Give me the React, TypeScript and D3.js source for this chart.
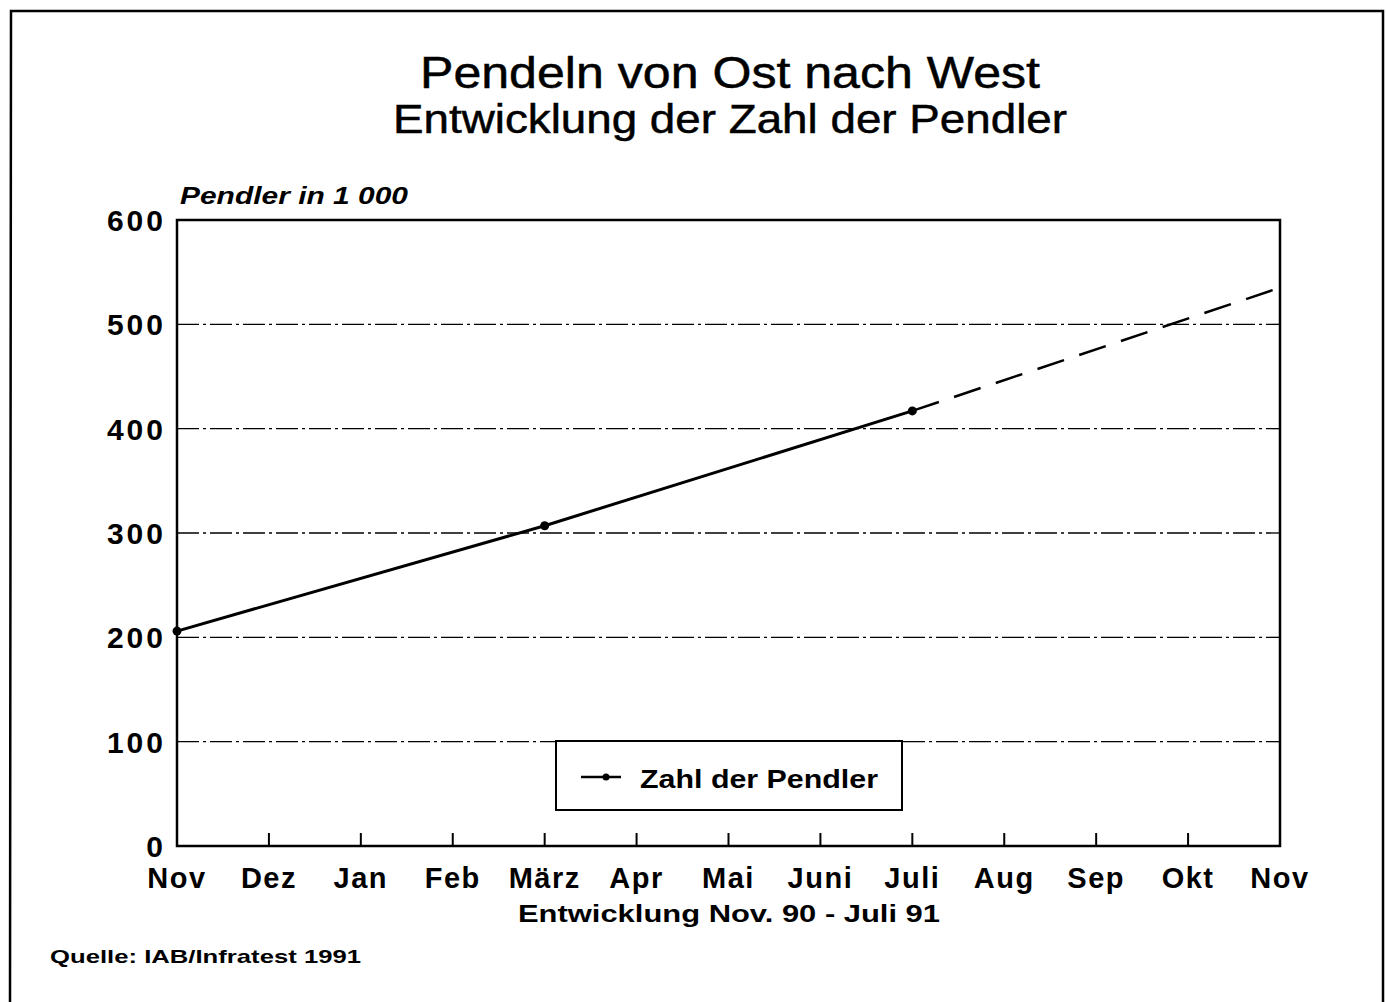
import * as d3 from "d3";

const months = ["Nov", "Dez", "Jan", "Feb", "März", "Apr", "Mai", "Juni", "Juli", "Aug", "Sep", "Okt", "Nov"];
const yTicks = [0, 100, 200, 300, 400, 500, 600];
// observed values (month index, Pendler in 1000)
const observed: [number, number][] = [
  [0, 206],
  [4, 307],
  [8, 417],
];
// dashed extrapolation to Nov 91
const projection: [number, number][] = [
  [8, 417],
  [12.03, 536],
];

const W = 1386;
const H = 1002;
const FONT = "'Liberation Sans', Arial, Helvetica, sans-serif";

export default function App() {
  const x = d3.scaleLinear().domain([0, 12]).range([177, 1280]);
  const y = d3.scaleLinear().domain([0, 600]).range([846, 220]);
  const line = d3
    .line<[number, number]>()
    .x((d) => x(d[0]))
    .y((d) => y(d[1]));

  return (
    <svg
      width={W}
      height={H}
      viewBox={`0 0 ${W} ${H}`}
      style={{ position: "absolute", left: 0, top: 0, background: "#fff" }}
      fontFamily={FONT}
    >
      {/* outer frame, runs off the bottom */}
      <path d="M10,1010 L11,11 L1383,11 L1383,1010" fill="none" stroke="#000" strokeWidth={2.5} />

      <text x={420} y={88} fontSize={45} textLength={620} lengthAdjust="spacingAndGlyphs" stroke="#000" strokeWidth={0.5}>
        Pendeln von Ost nach West
      </text>
      <text x={393} y={133} fontSize={40} textLength={674} lengthAdjust="spacingAndGlyphs" stroke="#000" strokeWidth={0.5}>
        Entwicklung der Zahl der Pendler
      </text>

      <text x={180} y={204} fontSize={23} fontWeight="bold" fontStyle="italic" textLength={228} lengthAdjust="spacingAndGlyphs">
        Pendler in 1 000
      </text>

      {/* grid lines */}
      {yTicks
        .filter((t) => t > 0 && t < 600)
        .map((t) => (
          <line
            key={t}
            x1={x(0)}
            x2={x(12)}
            y1={y(t)}
            y2={y(t)}
            stroke="#000"
            strokeWidth={1.3}
            strokeDasharray="22,4,3,4"
          />
        ))}

      {/* plot frame */}
      <path
        d={`M${x(0)},${y(600)} L${x(12)},${y(600)} L${x(12)},${y(0)} L${x(0)},${y(0)} Z`}
        fill="none"
        stroke="#000"
        strokeWidth={2.5}
      />

      {/* x ticks */}
      {months.map((m, i) =>
        i > 0 && i < 12 ? (
          <line key={"t" + i} x1={x(i)} x2={x(i)} y1={y(0)} y2={y(0) - 13} stroke="#000" strokeWidth={2} />
        ) : null
      )}

      {/* y labels */}
      {yTicks.map((t) => (
        <text
          key={t}
          x={166}
          y={y(t) + 11}
          textAnchor="end"
          fontSize={30}
          fontWeight="bold"
          letterSpacing={3}
        >
          {t}
        </text>
      ))}

      {/* x labels */}
      {months.map((m, i) => (
        <text key={"m" + i} x={x(i)} y={888} textAnchor="middle" fontSize={29} fontWeight="bold" letterSpacing={1.5}>
          {m}
        </text>
      ))}

      <text x={518} y={922} fontSize={24} fontWeight="bold" textLength={422} lengthAdjust="spacingAndGlyphs">
        Entwicklung Nov. 90 - Juli 91
      </text>

      <text x={50} y={963} fontSize={19} fontWeight="bold" textLength={311} lengthAdjust="spacingAndGlyphs">
        Quelle: IAB/Infratest 1991
      </text>

      {/* data line */}
      <path d={line(observed) ?? ""} fill="none" stroke="#000" strokeWidth={3} />
      <path d={line(projection) ?? ""} fill="none" stroke="#000" strokeWidth={2.5} strokeDasharray="28,16" />
      {observed.map((d, i) => (
        <circle key={"p" + i} cx={x(d[0])} cy={y(d[1])} r={4.5} fill="#000" />
      ))}

      {/* legend */}
      <rect x={556} y={741} width={346} height={69} fill="#fff" stroke="#000" strokeWidth={2} />
      <line x1={581} x2={621} y1={777} y2={777} stroke="#000" strokeWidth={2.5} />
      <circle cx={606} cy={777} r={3.5} fill="#000" />
      <text x={640} y={788} fontSize={25} fontWeight="bold" textLength={238} lengthAdjust="spacingAndGlyphs">
        Zahl der Pendler
      </text>
    </svg>
  );
}
